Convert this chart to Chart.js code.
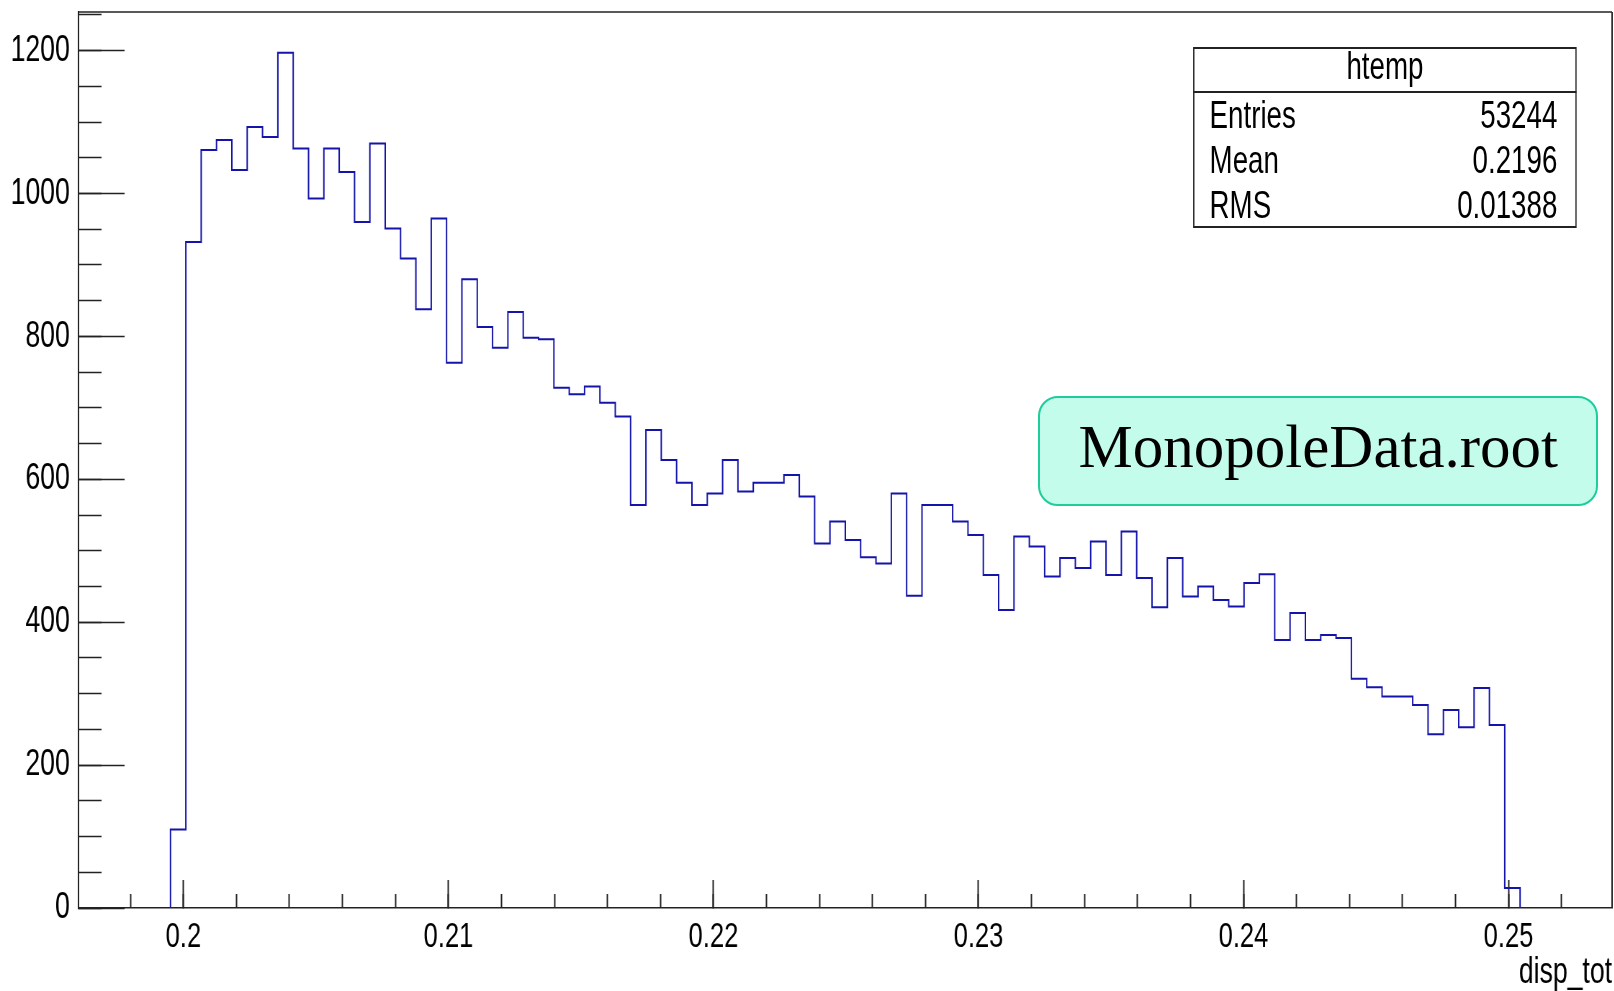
<!DOCTYPE html>
<html>
<head>
<meta charset="utf-8">
<script src="https://cdn.jsdelivr.net/npm/chart.js@4.4.1/dist/chart.umd.min.js"></script>
<style>
  html, body { margin: 0; padding: 0; background: #ffffff; overflow: hidden; width: 1614px; height: 991px; }
  #squash { position: absolute; left: 0; top: 0; width: 2242px; height: 991px; transform: scaleX(0.72); transform-origin: 0 0; }
  #c { display: block; position: absolute; left: 0; top: 0; }
  .sx { position: absolute; font-family: 'Liberation Sans', Arial, Helvetica, sans-serif; color: #000; white-space: nowrap; line-height: 1; }
  #statbox { position: absolute; left: 1657px; top: 47px; width: 533px; height: 181px; border: 2px solid #222; box-sizing: border-box; background: #fff; }
  #statsep { position: absolute; left: 1657px; top: 90.6px; width: 533px; height: 2px; background: #222; }
  #label { position: absolute; left: 1037.5px; top: 396px; width: 560px; height: 110px; box-sizing: border-box;
           border: 2px solid #1ecd9b; background: #c3fcea; border-radius: 20px; }
  #labeltext { position: absolute; left: 1078.6px; top: 416.2px; font-family: 'Liberation Serif', 'Times New Roman', serif;
               font-size: 61px; line-height: 1; color: #000; white-space: nowrap; }
</style>
</head>
<body>
<div id="squash">
  <canvas id="c" width="2242" height="991"></canvas>
  <div id="statbox"></div>
  <div id="statsep"></div>
  <div id="stattitle" class="sx" style="left:1657px; width:533px; text-align:center; top:47.4px; font-size:38.5px;"></div>
  <div id="statrows"></div>
</div>
<div id="label"></div>
<div id="labeltext"></div>
<script>
// ---------------- data ----------------
const histName = 'htemp';
const axisTitle = 'disp_tot';
const fileLabel = 'MonopoleData.root';
const nBins = 100;
const xLow = 0.19604;
const xHigh = 0.25391;
const yTop = 1254;
const binCounts = [
  0, 0, 0, 0, 0, 0,
  110, 932, 1061, 1075, 1033, 1093, 1079, 1197, 1063, 993,
  1063, 1030, 960, 1070, 951, 909, 838, 965, 763, 880,
  813, 784, 834, 798, 796, 728, 719, 730, 707, 688,
  564, 669, 627, 595, 564, 580, 627, 583, 595, 595,
  606, 576, 510, 541, 515, 491, 482, 580, 437, 564,
  564, 541, 522, 466, 417, 520, 506, 464, 490, 476,
  513, 466, 527, 462, 421, 490, 436, 450, 431, 422,
  455, 467, 375, 413, 375, 382, 378, 321, 309, 296,
  296, 284, 243, 277, 253, 308, 256, 28,
  0, 0, 0, 0, 0, 0
];
const xTickValues = [0.2, 0.21, 0.22, 0.23, 0.24, 0.25];
const xTickLabels = ['0.2', '0.21', '0.22', '0.23', '0.24', '0.25'];
const xMinorStep = 0.002;
const yTickValues = [0, 200, 400, 600, 800, 1000, 1200];
const yTickLabels = ['0', '200', '400', '600', '800', '1000', '1200'];
const yMinorStep = 50;
const statNames = ['Entries', 'Mean', 'RMS'];
const statValues = ['53244', '0.2196', '0.01388'];

// ---------------- text overlays ----------------
document.getElementById('stattitle').textContent = histName;
document.getElementById('labeltext').textContent = fileLabel;
const statTops = [95.9, 140.9, 185.7];
const rowsEl = document.getElementById('statrows');
statNames.forEach((n, i) => {
  const a = document.createElement('div');
  a.className = 'sx'; a.textContent = n;
  a.style.left = '1680px'; a.style.top = statTops[i] + 'px'; a.style.fontSize = '38.5px';
  rowsEl.appendChild(a);
  const b = document.createElement('div');
  b.className = 'sx'; b.textContent = statValues[i];
  b.style.left = '1657px'; b.style.width = '506px'; b.style.textAlign = 'right';
  b.style.top = statTops[i] + 'px'; b.style.fontSize = '38.5px';
  rowsEl.appendChild(b);
});

// ---------------- histogram outline points ----------------
const binWidth = (xHigh - xLow) / nBins;
const firstBin = binCounts.findIndex(v => v > 0);
let lastBin = binCounts.length - 1;
while (lastBin > 0 && binCounts[lastBin] === 0) lastBin--;
const outline = [{ x: xLow + firstBin * binWidth, y: 0 }];
for (let i = firstBin; i <= lastBin; i++) outline.push({ x: xLow + i * binWidth, y: binCounts[i] });
outline.push({ x: xLow + (lastBin + 1) * binWidth, y: 0 });

function minorTicks(lo, hi, step) {
  const out = [];
  const start = Math.ceil(lo / step - 1e-9);
  const end = Math.floor(hi / step + 1e-9);
  for (let k = start; k <= end; k++) out.push({ value: +(k * step).toFixed(6) });
  return out;
}
function fixBox(w, h) {
  return s => {
    if (w !== null) s.width = w;
    if (h !== null) s.height = h;
    s.paddingTop = 0; s.paddingBottom = 0; s.paddingLeft = 0; s.paddingRight = 0;
  };
}

const FONT = "'Liberation Sans', Arial, Helvetica, sans-serif";
const AXIS = '#222222';

const framePlugin = {
  id: 'frame',
  afterDraw(chart) {
    const { ctx, chartArea: a } = chart;
    ctx.save();
    ctx.strokeStyle = AXIS;
    ctx.lineWidth = 1.5;
    ctx.beginPath(); ctx.moveTo(a.left, a.top); ctx.lineTo(a.right, a.top); ctx.stroke();
    ctx.lineWidth = 2;
    ctx.beginPath(); ctx.moveTo(a.right, a.top); ctx.lineTo(a.right, a.bottom); ctx.stroke();
    ctx.restore();
  }
};

new Chart(document.getElementById('c'), {
  type: 'line',
  data: {
    datasets: [{
      data: outline,
      borderColor: '#1414aa',
      borderWidth: 2,
      pointRadius: 0,
      fill: false,
      stepped: 'before',
      tension: 0,
      borderJoinStyle: 'miter',
      xAxisID: 'x',
      yAxisID: 'y'
    }]
  },
  options: {
    responsive: false,
    animation: false,
    devicePixelRatio: 1,
    layout: { padding: { left: 0, top: 12, right: 3, bottom: 0 } },
    plugins: { legend: { display: false }, tooltip: { enabled: false } },
    events: [],
    scales: {
      x: {
        type: 'linear', position: 'bottom', min: xLow, max: xHigh, weight: 1,
        afterBuildTicks: s => { s.ticks = xTickValues.map(v => ({ value: v })); },
        afterFit: fixBox(null, 83),
        grid: { drawOnChartArea: false, drawTicks: true, tickLength: -28, tickWidth: 2, tickColor: AXIS },
        border: { display: true, color: AXIS, width: 1.5 },
        ticks: {
          padding: 35.5, color: '#000', font: { family: FONT, size: 35.5 }, maxRotation: 0, autoSkip: false,
          callback: (v, i) => xTickLabels[i]
        },
        title: { display: true, text: axisTitle, align: 'end', color: '#000',
                 font: { family: FONT, size: 37 }, padding: { top: 0, bottom: -4 } }
      },
      xMinor: {
        type: 'linear', position: 'bottom', min: xLow, max: xHigh, weight: 0,
        afterBuildTicks: s => { s.ticks = minorTicks(xLow, xHigh, xMinorStep); },
        afterFit: fixBox(null, 0),
        grid: { drawOnChartArea: false, drawTicks: true, tickLength: -14, tickWidth: 2, tickColor: AXIS },
        border: { display: false },
        ticks: { display: false }
      },
      y: {
        type: 'linear', position: 'left', min: 0, max: yTop, weight: 1,
        afterBuildTicks: s => { s.ticks = yTickValues.map(v => ({ value: v })); },
        afterFit: fixBox(109, null),
        grid: { drawOnChartArea: false, drawTicks: true, tickLength: -64, tickWidth: 1.5, tickColor: AXIS },
        border: { display: true, color: AXIS, width: 2 },
        ticks: {
          padding: 76, color: '#000', font: { family: FONT, size: 37 }, autoSkip: false,
          callback: (v, i) => yTickLabels[i]
        }
      },
      yMinor: {
        type: 'linear', position: 'left', min: 0, max: yTop, weight: 0,
        afterBuildTicks: s => { s.ticks = minorTicks(0, yTop, yMinorStep); },
        afterFit: fixBox(0, null),
        grid: { drawOnChartArea: false, drawTicks: true, tickLength: -32, tickWidth: 1.5, tickColor: AXIS },
        border: { display: false },
        ticks: { display: false }
      }
    }
  },
  plugins: [framePlugin]
});
</script>
</body>
</html>
